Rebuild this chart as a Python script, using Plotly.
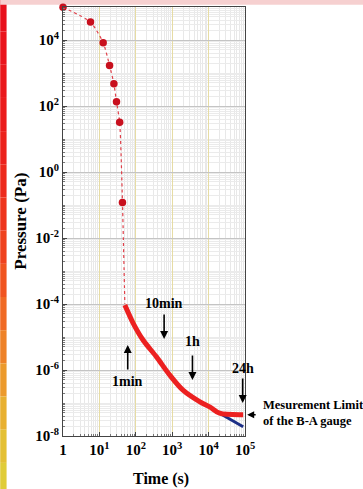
import numpy as np
import plotly.graph_objects as go

# Early pump-down (markers, dotted)
t_pts = [1, 5.7, 12.7, 19, 25, 29.5, 36, 43, 50]
p_pts = [9.8e4, 3.5e4, 8.3e3, 1.7e3, 470, 135, 32, 0.12, 1e-4]

# Main pump-down curve (thick red)
t_curve = [50, 85, 158, 370, 850, 1980, 5640, 11000, 20000, 89000]
p_curve = [9.3e-5, 2.6e-5, 8.1e-6, 2.5e-6, 7.1e-7, 2.45e-7, 1.1e-7, 7.5e-8, 4.9e-8, 4.4e-8]

# Extrapolated (blue) below gauge limit
t_blue = [20000, 89000]
p_blue = [4.9e-8, 1.9e-8]

x_tickvals = [1, 10, 100, 1000, 10000, 100000]
x_ticktext = ["<b>1</b>", "<b>10<sup>1</sup></b>", "<b>10<sup>2</sup></b>", "<b>10<sup>3</sup></b>",
              "<b>10<sup>4</sup></b>", "<b>10<sup>5</sup></b>"]
y_tickvals = [1e4, 1e2, 1e0, 1e-2, 1e-4, 1e-6, 1e-8]
y_ticktext = ["<b>10<sup>4</sup></b>", "<b>10<sup>2</sup></b>", "<b>10<sup>0</sup></b>",
              "<b>10<sup>-2</sup></b>", "<b>10<sup>-4</sup></b>", "<b>10<sup>-6</sup></b>",
              "<b>10<sup>-8</sup></b>"]

# arrows: (time, tip pressure, label, label pressure, direction)
marks = [
    (60, 10**-5.24, "1min", 10**-6.35, "up"),
    (600, 10**-5.06, "10min", 10**-3.97, "down"),
    (3600, 10**-6.30, "1h", 10**-5.14, "down"),
    (86400, 10**-7.0, "24h", 10**-5.94, "down"),
]

SERIF = "Liberation Serif"
fig = go.Figure()

fig.add_trace(go.Scatter(x=t_blue, y=p_blue, mode="lines",
                         line=dict(color="#1c2f86", width=3), showlegend=False))
fig.add_trace(go.Scatter(x=t_pts, y=p_pts, mode="lines",
                         line=dict(color="#e0404a", width=1.2, dash="dot", shape="spline",
                                   smoothing=0.6), showlegend=False))
fig.add_trace(go.Scatter(x=t_pts[:-1], y=p_pts[:-1], mode="markers", cliponaxis=False,
                         marker=dict(color="#c8101e", size=7.5), showlegend=False))
fig.add_trace(go.Scatter(x=t_curve, y=p_curve, mode="lines",
                         line=dict(color="#ec2020", width=5, shape="spline", smoothing=0.9),
                         showlegend=False))

ann = []
for t, ptip, lab, plab, d in marks:
    ann.append(dict(x=np.log10(t), y=np.log10(ptip), xref="x", yref="y", text="",
                    showarrow=True, arrowhead=2, arrowsize=1, arrowwidth=1.6,
                    arrowcolor="black", ax=0, ay=(26 if d == "up" else -26)))
    ann.append(dict(x=np.log10(t), y=np.log10(plab), xref="x", yref="y", text="<b>%s</b>" % lab,
                    showarrow=False, font=dict(family=SERIF, size=14, color="black")))

# Measurement limit note
ann.append(dict(x=np.log10(89000), y=np.log10(4.4e-8), xref="x", yref="y", text="",
                showarrow=True, arrowhead=2, arrowsize=1, arrowwidth=1.4, arrowcolor="black",
                ax=14, ay=0, standoff=4))
ann.append(dict(x=1.0, y=0.054, xref="paper", yref="paper", xanchor="left", yanchor="middle",
                xshift=16, align="left",
                text="<b>Mesurement Limit<br>of the B-A gauge</b>", showarrow=False,
                font=dict(family=SERIF, size=12.5, color="black")))

# axis titles
ann.append(dict(x=-0.235, y=0.5, xref="paper", yref="paper", text="<b>Pressure (Pa)</b>",
                xanchor="center", yanchor="middle",
                textangle=-90, showarrow=False, font=dict(family=SERIF, size=17, color="black")))
ann.append(dict(x=0.54, y=-0.1, xref="paper", yref="paper", text="<b>Time (s)</b>",
                xanchor="center", yanchor="middle",
                showarrow=False, font=dict(family=SERIF, size=16, color="black")))

# scanning artefact: coloured strip on the left
strip_cols = ["#e8101c", "#ea141c", "#ea181c", "#eb1c1c", "#ec221c", "#ed2a1c",
              "#ee341c", "#ef421e", "#f05420", "#f06a24", "#ee8228", "#ec9a2c",
              "#e8b030", "#e4c034", "#e0cc38"]
shapes = []
n = len(strip_cols)
y_top, y_bot = 1.02, -0.14
for i, c in enumerate(strip_cols):
    y1 = y_top - (y_top - y_bot) * i / n
    y0 = y_top - (y_top - y_bot) * (i + 1) / n
    shapes.append(dict(type="rect", xref="paper", yref="paper", x0=-0.345, x1=-0.31,
                       y0=y0, y1=y1, fillcolor=c, line=dict(width=0), layer="below"))
shapes.append(dict(type="rect", xref="paper", yref="paper", x0=-0.345, x1=1.65,
                   y0=1.005, y1=1.02, fillcolor="#f6d0d0", line=dict(width=0), layer="below"))

axis_common = dict(
    type="log", showline=True, linecolor="#444", linewidth=1, mirror=True,
    ticks="inside", ticklen=4, tickcolor="#444",
    tickfont=dict(family=SERIF, size=15, color="black"),
    zeroline=False,
)

fig.update_xaxes(**axis_common, range=[0, 5], tickmode="array", tickvals=x_tickvals,
                 ticktext=x_ticktext, showgrid=True, gridcolor="#e6dca4", gridwidth=1,
                 minor=dict(dtick="D1", showgrid=True, gridcolor="#e8e8e8", gridwidth=1,
                            ticks="inside", ticklen=2, tickcolor="#777"))
fig.update_yaxes(**axis_common, range=[-8, 5], tickmode="array", tickvals=y_tickvals,
                 ticktext=y_ticktext, showgrid=True, gridcolor="#c4c4c4", gridwidth=1,
                 minor=dict(dtick="D1", showgrid=True, gridcolor="#ebebeb", gridwidth=1,
                            ticks="inside", ticklen=2, tickcolor="#777"))

fig.update_layout(
    width=363, height=489,
    margin=dict(l=63, r=118, t=7, b=53),
    paper_bgcolor="white", plot_bgcolor="white",
    annotations=ann, shapes=shapes, showlegend=False,
)

fig.write_html("out.html")
